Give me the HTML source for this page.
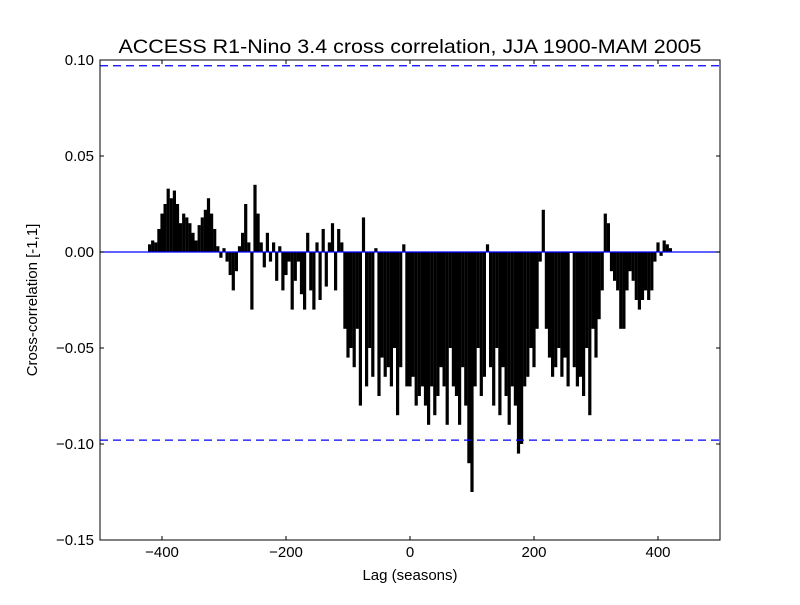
<!DOCTYPE html>
<html><head><meta charset="utf-8"><style>
body{margin:0;background:#fff;}
svg text{font-family:"Liberation Sans",sans-serif;}
</style></head><body>
<svg id="chart" width="800" height="600" xmlns="http://www.w3.org/2000/svg">
<rect width="800" height="600" fill="#fff"/>
<text x="410" y="53" font-size="19.5" text-anchor="middle" textLength="583" lengthAdjust="spacingAndGlyphs">ACCESS R1-Nino 3.4 cross correlation, JJA 1900-MAM 2005</text>
<text x="410" y="580" font-size="15" text-anchor="middle">Lag (seasons)</text>
<text transform="translate(37,300) rotate(-90)" font-size="15" text-anchor="middle">Cross-correlation [-1,1]</text>
<g id="bars"></g>
<g id="refs"></g>
<g id="ticks"></g>
<rect x="100" y="60" width="620" height="480" fill="none" stroke="#000" stroke-width="1"/>
</svg>
<script>
const lagStart = -420, lagStep = 5;
const values = [0.004,0.006,0.005,0.012,0.02,0.025,0.033,0.028,0.032,0.025,0.015,0.02,0.018,0.015,0.01,0.006,0.014,0.018,0.022,0.028,0.02,0.012,0.003,
-0.003,0.002,-0.005,-0.012,-0.02,-0.01,0.003,0.01,0.025,0.005,-0.03,0.035,0.02,0.005,-0.008,0.01,-0.005,0.005,-0.015,0.003,-0.02,-0.012,-0.005,-0.03,-0.015,-0.005,-0.022,-0.03,0.01,-0.02,-0.03,0.005,-0.025,0.012,-0.018,0.005,0.015,-0.02,0.012,0.005,-0.04,-0.055,-0.05,-0.06,-0.04,-0.08,0.018,-0.07,-0.05,-0.065,0.002,-0.075,-0.055,-0.065,-0.06,-0.07,-0.05,-0.085,-0.06,0.004,-0.07,
-0.07,-0.065,-0.08,-0.075,-0.07,-0.08,-0.09,-0.07,-0.085,-0.075,-0.06,-0.07,-0.09,-0.05,-0.07,-0.075,-0.09,-0.06,-0.08,-0.11,-0.125,-0.07,-0.05,-0.075,-0.065,0.004,-0.06,-0.08,-0.05,-0.085,-0.06,-0.075,-0.09,-0.07,-0.08,-0.105,-0.1,-0.07,-0.065,-0.05,-0.06,-0.04,-0.005,0.022,-0.04,-0.055,-0.065,-0.06,-0.05,-0.065,-0.055,-0.07,0.0,-0.06,-0.07,-0.065,-0.075,-0.05,-0.085,-0.04,-0.055,-0.035,-0.02,0.02,0.015,-0.01,-0.015,-0.02,-0.04,-0.04,-0.02,-0.01,-0.015,-0.025,-0.03,-0.025,-0.02,-0.025,-0.02,-0.005,0.005,-0.002,0.006,0.004,0.002];
const xTicks = [-400,-200,0,200,400];
const yTicks = [0.10,0.05,0.00,-0.05,-0.10,-0.15];
const yTickLabels = ["0.10","0.05","0.00","\u22120.05","\u22120.10","\u22120.15"];
const confLevels = [0.097,-0.098];
const NS="http://www.w3.org/2000/svg";
const xs = v => 100 + (v + 500) * 620 / 1000;
const ys = v => 540 - (v + 0.15) * 480 / 0.25;
const bars = document.getElementById('bars');
values.forEach((v,i)=>{
  const lag = lagStart + i*lagStep;
  const r = document.createElementNS(NS,'rect');
  
  
  const y0 = ys(0), y1 = ys(v);
  r.setAttribute('x', xs(lag)-1.6);
  r.setAttribute('width', 3.2);
  r.setAttribute('y', Math.min(y0,y1));
  r.setAttribute('height', Math.max(1,Math.abs(y1-y0)));
  r.setAttribute('fill','#000');
  bars.appendChild(r);
});
const refs = document.getElementById('refs');
const zl = document.createElementNS(NS,'line');


zl.setAttribute('x1',100);zl.setAttribute('x2',720);zl.setAttribute('y1',ys(0));zl.setAttribute('y2',ys(0));
zl.setAttribute('stroke','#0000ff');zl.setAttribute('stroke-width',1.3);
refs.appendChild(zl);
confLevels.forEach(c=>{
  const l = document.createElementNS(NS,'line');
  
  
  l.setAttribute('x1',100);l.setAttribute('x2',720);l.setAttribute('y1',ys(c));l.setAttribute('y2',ys(c));
  l.setAttribute('stroke','#0000ff');l.setAttribute('stroke-width',1.2);l.setAttribute('stroke-dasharray','8,5');
  refs.appendChild(l);
});
const ticks = document.getElementById('ticks');
function ln(x1,y1,x2,y2){const l=document.createElementNS(NS,'line');l.setAttribute('x1',x1);l.setAttribute('y1',y1);l.setAttribute('x2',x2);l.setAttribute('y2',y2);l.setAttribute('stroke','#000');


ticks.appendChild(l);}
xTicks.forEach(t=>{
  const x=xs(t); ln(x,540,x,536); ln(x,60,x,64);
  const tx=document.createElementNS(NS,'text');
  
  
  tx.setAttribute('x',x);tx.setAttribute('y',557);tx.setAttribute('font-size',15);tx.setAttribute('text-anchor','middle');
  tx.textContent = t<0 ? '\u2212'+(-t) : String(t);
  ticks.appendChild(tx);
});
yTicks.forEach((t,i)=>{
  const y=ys(t); ln(100,y,104,y); ln(720,y,716,y);
  const tx=document.createElementNS(NS,'text');
  
  
  tx.setAttribute('x',94);tx.setAttribute('y',y+5);tx.setAttribute('font-size',15);tx.setAttribute('text-anchor','end');
  tx.textContent = yTickLabels[i];
  ticks.appendChild(tx);
});
</script>
</body></html>
